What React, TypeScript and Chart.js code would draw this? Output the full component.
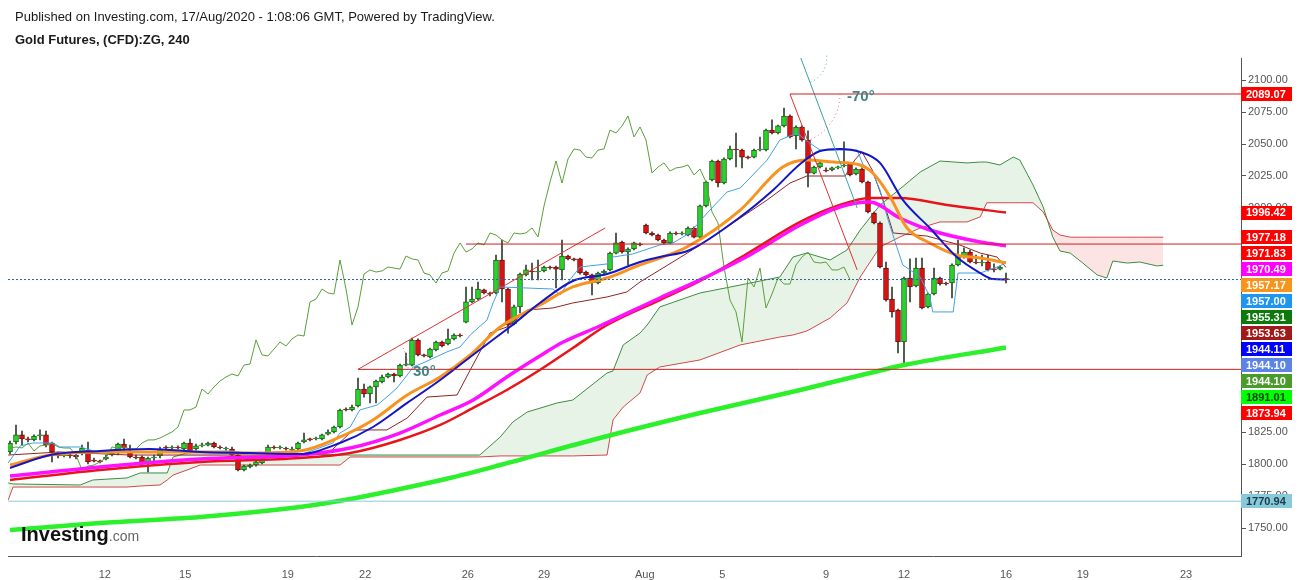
import React, { useEffect, useRef } from "react";
import { Chart, registerables } from "chart.js";

Chart.register(...registerables);

const W = 1299;
const H = 580;

const HEADER_LINE = "Published on Investing.com, 17/Aug/2020 - 1:08:06 GMT, Powered by TradingView.";
const TITLE_LINE = "Gold Futures, (CFD):ZG, 240";

// 4-hour candles (bar index 0..166)
const OPEN = [
  1809.4, 1817.2, 1822.7, 1819.5, 1818.8, 1821.9, 1822.7, 1816.4, 1807.0, 1806.3,
  1807.0, 1807.0, 1808.6, 1810.9, 1803.1, 1802.3, 1803.9, 1807.0, 1808.6, 1815.6,
  1808.6, 1805.5, 1805.5, 1801.6, 1804.7, 1806.3, 1813.3, 1812.5, 1813.3, 1811.7,
  1816.4, 1811.7, 1814.1, 1814.8, 1816.4, 1813.3, 1811.7, 1811.7, 1807.0, 1795.3,
  1797.7, 1799.2, 1800.8, 1808.6, 1813.3, 1812.5, 1812.5, 1810.9, 1811.7, 1817.2,
  1819.5, 1819.5, 1819.5, 1823.4, 1825.0, 1828.9, 1843.0, 1842.2, 1845.3, 1858.6,
  1854.7, 1860.2, 1864.1, 1868.0, 1870.3, 1868.8, 1877.3, 1877.3, 1896.9, 1885.2,
  1883.6, 1889.1, 1895.3, 1893.8, 1897.7, 1900.8, 1910.9, 1926.6, 1928.9, 1936.0,
  1933.6, 1933.6, 1959.4, 1936.7, 1909.4, 1922.7, 1947.7, 1950.8, 1950.0, 1950.8,
  1953.9, 1953.9, 1951.6, 1962.5, 1960.2, 1960.2, 1950.0, 1947.7, 1941.4, 1949.2,
  1951.6, 1964.8, 1973.4, 1965.6, 1968.0, 1971.9, 1986.7, 1980.5, 1978.9, 1975.0,
  1972.7, 1980.5, 1979.7, 1978.9, 1984.4, 1977.3, 2001.6, 2021.9, 2036.7, 2019.5,
  2038.3, 2046.1, 2045.3, 2039.8, 2039.8, 2045.3, 2045.3, 2060.9, 2058.6, 2064.1,
  2071.9, 2056.3, 2063.3, 2053.1, 2027.3, 2032.0, 2029.7, 2029.7, 2031.3, 2032.8,
  2034.4, 2026.6, 2030.5, 2020.3, 1996.1, 1988.3, 1953.1, 1928.9, 1920.3, 1895.3,
  1945.3, 1939.1, 1953.1, 1922.7, 1932.8, 1945.3, 1941.4, 1941.4, 1955.5, 1961.7,
  1965.6, 1957.8, 1957.0, 1957.8, 1952.3, 1952.3, 1944.5,
];
const HIGH = [
  1818.0, 1830.5, 1825.8, 1821.1, 1822.7, 1826.6, 1825.8, 1817.2, 1809.4, 1808.6,
  1808.6, 1807.8, 1814.8, 1817.2, 1804.7, 1803.1, 1807.0, 1810.9, 1816.4, 1819.5,
  1814.8, 1807.0, 1806.3, 1805.5, 1807.0, 1813.3, 1814.1, 1814.1, 1814.1, 1817.2,
  1819.5, 1815.6, 1816.4, 1817.2, 1817.2, 1814.1, 1813.3, 1813.3, 1808.6, 1799.2,
  1800.0, 1803.1, 1805.5, 1814.8, 1814.1, 1814.1, 1813.3, 1813.3, 1817.2, 1824.2,
  1820.3, 1821.1, 1823.4, 1826.6, 1829.7, 1843.0, 1843.8, 1846.1, 1867.2, 1862.5,
  1860.9, 1865.6, 1869.5, 1871.1, 1871.1, 1878.1, 1886.7, 1898.4, 1897.7, 1885.9,
  1890.6, 1896.1, 1896.1, 1905.5, 1901.6, 1901.6, 1938.3, 1938.3, 1942.2, 1936.7,
  1934.4, 1963.3, 1975.0, 1937.5, 1924.2, 1949.2, 1955.5, 1957.0, 1959.4, 1954.7,
  1954.7, 1954.7, 1975.0, 1963.3, 1960.9, 1960.9, 1950.8, 1948.4, 1950.0, 1951.6,
  1965.6, 1980.5, 1974.2, 1968.8, 1973.4, 1972.7, 1987.5, 1981.3, 1979.7, 1975.8,
  1981.3, 1981.3, 1981.3, 1985.2, 1985.2, 2002.3, 2021.1, 2037.5, 2037.5, 2039.1,
  2048.4, 2058.6, 2046.1, 2040.6, 2046.1, 2055.5, 2061.7, 2068.8, 2064.8, 2078.1,
  2072.7, 2064.1, 2064.1, 2060.2, 2032.8, 2035.9, 2031.3, 2032.0, 2032.8, 2051.6,
  2035.2, 2031.3, 2031.3, 2021.1, 1996.9, 1989.1, 1957.8, 1938.3, 1921.1, 1946.1,
  1960.2, 1960.9, 1960.9, 1933.6, 1953.1, 1946.1, 1942.2, 1956.3, 1975.0, 1968.8,
  1967.2, 1963.3, 1963.3, 1963.3, 1956.3, 1954.7, 1949.2,
];
const LOW = [
  1807.8, 1815.6, 1814.8, 1817.2, 1818.0, 1818.8, 1813.3, 1801.6, 1804.7, 1805.5,
  1804.7, 1803.9, 1807.0, 1800.0, 1801.6, 1800.8, 1803.1, 1806.3, 1807.0, 1810.9,
  1804.7, 1803.9, 1800.0, 1793.8, 1801.6, 1804.7, 1811.7, 1811.7, 1811.7, 1810.2,
  1809.4, 1810.9, 1813.3, 1814.1, 1812.5, 1811.7, 1810.9, 1806.3, 1794.5, 1794.5,
  1796.9, 1798.4, 1800.0, 1807.8, 1811.7, 1811.7, 1810.9, 1810.2, 1810.9, 1816.4,
  1818.0, 1818.8, 1818.8, 1822.7, 1824.2, 1828.1, 1841.4, 1841.4, 1844.5, 1852.3,
  1847.7, 1847.7, 1863.3, 1867.2, 1864.1, 1868.0, 1876.6, 1876.6, 1884.4, 1883.6,
  1882.8, 1888.3, 1891.4, 1893.0, 1896.9, 1899.2, 1910.2, 1925.8, 1928.1, 1932.8,
  1931.3, 1932.8, 1926.6, 1902.3, 1908.6, 1918.0, 1946.9, 1943.8, 1943.8, 1950.0,
  1952.3, 1937.5, 1943.8, 1959.4, 1958.6, 1948.4, 1946.9, 1932.0, 1940.6, 1948.4,
  1950.8, 1964.1, 1964.8, 1955.5, 1967.2, 1970.3, 1979.7, 1978.1, 1974.2, 1971.9,
  1971.9, 1978.9, 1978.9, 1978.1, 1976.6, 1976.6, 2000.8, 2021.1, 2016.4, 2018.8,
  2037.5, 2032.0, 2031.3, 2038.3, 2039.1, 2044.5, 2044.5, 2057.8, 2057.8, 2063.3,
  2054.7, 2046.1, 2052.3, 2016.4, 2026.6, 2031.3, 2028.1, 2028.9, 2030.5, 2032.0,
  2025.0, 2025.8, 2019.5, 1996.1, 1987.5, 1953.1, 1927.3, 1914.8, 1886.7, 1878.9,
  1926.6, 1938.3, 1921.1, 1921.9, 1932.0, 1939.8, 1939.8, 1929.7, 1954.7, 1960.9,
  1957.0, 1956.3, 1954.7, 1950.8, 1950.0, 1951.6, 1941.4,
];
const CLOSE = [
  1816.4, 1822.7, 1819.5, 1818.8, 1821.9, 1822.7, 1814.8, 1809.4, 1806.3, 1807.0,
  1806.3, 1805.5, 1812.5, 1801.6, 1802.3, 1801.6, 1805.5, 1808.6, 1815.6, 1812.5,
  1805.5, 1804.7, 1800.8, 1804.7, 1805.5, 1811.7, 1812.5, 1813.3, 1812.5, 1816.4,
  1810.2, 1814.1, 1814.8, 1816.4, 1813.3, 1812.5, 1812.5, 1807.0, 1795.3, 1798.4,
  1799.2, 1801.6, 1804.7, 1813.3, 1812.5, 1813.3, 1811.7, 1811.7, 1816.4, 1818.8,
  1818.8, 1820.3, 1822.7, 1825.0, 1828.9, 1842.2, 1842.2, 1844.5, 1858.6, 1854.7,
  1860.2, 1864.8, 1868.0, 1870.3, 1868.8, 1877.3, 1878.1, 1896.9, 1885.2, 1884.4,
  1889.8, 1895.3, 1892.2, 1897.7, 1900.8, 1900.0, 1926.6, 1928.9, 1936.7, 1933.6,
  1932.8, 1959.4, 1936.7, 1908.6, 1922.7, 1948.4, 1951.6, 1950.0, 1950.8, 1953.9,
  1953.1, 1952.3, 1962.5, 1960.2, 1959.4, 1949.2, 1947.7, 1941.4, 1949.2, 1950.8,
  1964.8, 1972.7, 1965.6, 1968.0, 1972.7, 1971.1, 1980.5, 1978.9, 1975.0, 1972.7,
  1980.5, 1979.7, 1980.5, 1984.4, 1977.3, 2001.6, 2020.3, 2036.7, 2019.5, 2038.3,
  2046.1, 2045.3, 2039.8, 2039.1, 2045.3, 2046.1, 2060.9, 2058.6, 2064.1, 2071.9,
  2055.5, 2063.3, 2053.1, 2027.3, 2032.0, 2035.2, 2028.9, 2031.3, 2032.0, 2033.6,
  2025.8, 2030.5, 2020.3, 1996.9, 1988.3, 1953.9, 1928.1, 1918.8, 1895.3, 1945.3,
  1938.3, 1953.1, 1921.9, 1932.8, 1945.3, 1940.6, 1940.6, 1955.5, 1961.7, 1965.6,
  1957.8, 1957.0, 1957.8, 1951.6, 1951.6, 1953.9, 1944.1,
];

// Moving averages: [bar index, price]
const EMA_BLUE = [
  [0, 1796.9], [6.7, 1807.0], [15, 1810.2], [23.3, 1811.7], [31.7, 1809.4], [40, 1808.6],
  [48.3, 1807.8], [55, 1816.4], [60.5, 1828.9], [66.2, 1847.7], [71.7, 1865.6], [76.7, 1883.6],
  [80, 1895.3], [83.3, 1907.0], [88.3, 1925.8], [93.8, 1943.0], [99.5, 1948.4], [105, 1957.8],
  [108.3, 1961.7], [113.3, 1967.2], [121.7, 1993.0], [127.2, 2014.1], [131.7, 2034.4], [135, 2044.5],
  [138.3, 2046.1], [141.7, 2043.8], [145, 2035.2], [148.8, 2006.3], [153.3, 1984.4], [157.8, 1961.7],
  [161.7, 1949.2], [163.8, 1944.5], [166, 1944.1],
];
const EMA_ORANGE = [
  [0, 1799.2], [6.7, 1807.0], [15, 1809.4], [31.7, 1809.4], [40, 1808.6], [48.3, 1810.2],
  [55, 1821.1], [60.5, 1834.4], [66.2, 1853.9], [71.7, 1868.0], [76.7, 1885.2], [81.7, 1907.0],
  [88.3, 1924.2], [93.8, 1938.3], [99.5, 1945.3], [105, 1955.5], [108.3, 1960.9], [112.8, 1969.5],
  [121.7, 1998.4], [128.8, 2032.0], [132.8, 2037.5], [137.2, 2035.9], [141.7, 2033.6], [143.8, 2027.3],
  [146.7, 2008.6], [149.5, 1984.4], [153.3, 1972.7], [157.8, 1963.3], [161.7, 1960.9], [166, 1957.2],
];
const EMA_MAGENTA = [
  [0, 1790.6], [15, 1797.7], [31.7, 1803.9], [48.3, 1807.0], [56.7, 1812.5], [65, 1824.2],
  [71.7, 1838.3], [77.2, 1850.0], [82.8, 1868.0], [88.3, 1884.4], [92.2, 1895.3], [98.3, 1907.8],
  [108.3, 1929.7], [115, 1943.8], [123.3, 1963.3], [131.7, 1986.7], [138.3, 2000.8], [143.3, 2004.7],
  [148.3, 1992.2], [153.3, 1982.8], [161.7, 1973.4], [166, 1970.5],
];
const EMA_RED = [
  [0, 1787.5], [15, 1795.3], [31.7, 1801.6], [48.3, 1804.7], [56.7, 1808.6], [65, 1818.8],
  [71.7, 1830.5], [77.2, 1843.8], [82.8, 1857.8], [88.3, 1873.4], [93.8, 1890.6], [99.5, 1908.6],
  [108.3, 1928.1], [115, 1943.0], [123.3, 1965.6], [131.7, 1989.1], [138.3, 2002.3], [143.3, 2007.8],
  [148.3, 2007.8], [156.2, 2002.3], [166, 1996.4],
];
const EMA_LIME = [
  [0, 1748.4], [15, 1753.9], [31.7, 1758.6], [48.3, 1766.4], [56.7, 1772.7], [65, 1780.5],
  [73.3, 1789.1], [81.7, 1799.2], [98.3, 1820.3], [115, 1839.8], [131.7, 1857.8], [143.3, 1871.1],
  [149, 1877.3], [166, 1891.0],
];

// Ichimoku lines
const TENKAN = [
  [-0.3, 1800.8], [1.7, 1814.1], [3.8, 1816.4], [7.2, 1816.4], [8.3, 1813.3], [11.7, 1813.3],
  [15, 1808.6], [23.8, 1809.4], [37.2, 1810.2], [41.7, 1804.7], [48.3, 1807.0], [53.8, 1816.4],
  [55, 1824.2], [56.7, 1828.9], [58.3, 1842.2], [61.2, 1846.1], [62.8, 1852.3], [64.5, 1859.4],
  [66.2, 1869.5], [67.2, 1875.8], [68.8, 1878.9], [72.8, 1887.5], [75, 1891.4], [76.7, 1900.8],
  [79.5, 1912.5], [80.5, 1925.8], [81.7, 1938.3], [90.5, 1936.7], [91.7, 1932.0], [93.3, 1943.8],
  [95, 1953.9], [99.5, 1956.3], [100.5, 1961.7], [103.8, 1964.1], [108.3, 1971.1], [110.5, 1972.7],
  [113.3, 1980.5], [116.2, 1996.1], [119.5, 2012.5], [121.7, 2015.6], [123.8, 2025.8], [126.2, 2037.5],
  [128.3, 2053.1], [131.2, 2058.6], [132.8, 2052.3], [135, 2045.3], [141.2, 2045.3], [142.2, 2033.6],
  [143.8, 2027.3], [145, 2014.1], [146.2, 1993.0], [147.8, 1969.5], [148.8, 1955.5], [151.7, 1946.1],
  [153.3, 1930.5], [153.8, 1918.8], [157.2, 1918.8], [158, 1949.2], [161.7, 1949.2], [164.5, 1953.9],
  [166, 1957.0],
];
const KIJUN = [
  [-0.3, 1807.0], [8.3, 1809.4], [20, 1807.0], [48.3, 1807.0], [53.3, 1809.4], [57.2, 1826.6],
  [62.8, 1826.6], [66.2, 1835.9], [69.5, 1852.3], [74.5, 1853.9], [76.7, 1873.4], [80, 1902.3],
  [82.8, 1907.0], [86.2, 1920.3], [90.5, 1921.9], [93.8, 1925.8], [99.5, 1930.5], [102.8, 1934.4],
  [105, 1942.2], [108.3, 1951.6], [114.5, 1969.5], [119.5, 1985.2], [126.2, 2006.3], [130, 2019.5],
  [132.8, 2025.0], [139.2, 2025.0], [140.8, 2037.5], [142, 2043.8], [143.7, 2029.7], [145.5, 2006.3],
  [147.2, 1980.5], [152.8, 1978.1], [158.3, 1971.1], [161.7, 1964.8], [164.5, 1961.7], [166, 1953.6],
];
const CLOUD_IDX = [
  -0.3, 0.5, 11.7, 13.8, 19.5, 21.7, 25, 26.2, 27.2, 29.5, 31.7, 37.2, 55, 56.7, 78.3, 81.7, 83.8,
  86.2, 91.2, 93.8, 99.5, 100.5, 102.2, 105, 106.2, 108.3, 115, 121.7, 128.3, 130.5, 132.8, 136.7,
  139.5, 141.7, 145, 148.3, 151.7, 155, 159.5, 161.7, 162.8, 165, 167.2, 168.3, 170.5, 172.2, 173.8,
  175, 176.7, 178.8, 181.2, 182.8, 183.8, 186.2, 188.3, 191.2, 192.2,
];
const SENKOU_A = [
  1785.2, 1784.4, 1783.6, 1787.5, 1789.1, 1793.0, 1793.0, 1793.0, 1805.5, 1808.6,
  1809.4, 1809.4, 1807.0, 1807.0, 1807.0, 1821.1, 1832.8, 1840.6, 1847.7, 1850.0,
  1871.1, 1872.7, 1893.0, 1902.3, 1908.6, 1922.7, 1933.6, 1939.8, 1946.1, 1961.7,
  1964.8, 1959.4, 1967.2, 1982.8, 2002.3, 2014.8, 2028.1, 2036.7, 2035.2, 2035.9,
  2035.9, 2033.6, 2039.8, 2037.5, 2018.0, 2000.8, 1977.3, 1966.4, 1964.8, 1957.0,
  1947.7, 1945.3, 1958.6, 1957.0, 1957.8, 1954.7, 1955.3,
];
const SENKOU_B = [
  1771.9, 1782.0, 1782.0, 1782.0, 1782.0, 1782.8, 1783.6, 1787.5, 1791.4, 1795.3,
  1799.2, 1799.2, 1799.2, 1805.5, 1805.5, 1806.3, 1806.3, 1806.3, 1806.3, 1806.3,
  1807.0, 1834.4, 1844.5, 1855.5, 1869.5, 1875.8, 1881.3, 1893.0, 1899.2, 1900.8,
  1903.9, 1914.1, 1925.8, 1946.1, 1969.5, 1977.3, 1984.4, 1989.1, 1989.1, 1993.0,
  2004.1, 2004.1, 2004.1, 2004.1, 2004.1, 1996.9, 1982.8, 1978.9, 1977.2, 1977.2,
  1977.2, 1977.2, 1977.2, 1977.2, 1977.2, 1977.2, 1977.2,
];
const CHIKOU_SHIFT = 26;

// Drawings
const LEVEL_TOP = 2089.07;
const LEVEL_MID = 1971.83;
const LEVEL_LOW = 1873.94;
const LEVEL_CYAN = 1770.94;
const LAST_PRICE = 1944.11;
const LEVEL_TOP_FROM = 130;
const LEVEL_MID_FROM = 76;
const LEVEL_LOW_FROM = 58;
const TREND_UP = [[58, 1873.94], [99.2, 1984.4]];
const TREND_DOWN = [[130, 2089.07], [141.2, 1951.6]];
const TREND_TEAL = [[131.8, 2117.2], [141.2, 2000.0]];

// Axes
const X_MIN = -1 / 3;
const X_MAX = X_MIN + 1233 / 6;
const Y_MIN = 1728.125;
const Y_MAX = 2117.1875;
const X_TICK_POS = [15.8, 29.2, 46.3, 59.2, 76.3, 89, 105.8, 118.7, 136, 149, 166, 178.8, 196];
const X_TICK_LABELS = ["12", "15", "19", "22", "26", "29", "Aug", "5", "9", "12", "16", "19", "23"];
const Y_TICKS = [1750, 1775, 1800, 1825, 1850, 1875, 1900, 1925, 1950, 1975, 2000, 2025, 2050, 2075, 2100];

// Price tags on the right axis
const TAG_VALUES = [2089.07, 1996.42, 1977.18, 1971.83, 1970.49, 1957.17, 1957.0, 1955.31, 1953.63, 1944.11, 1944.1, 1944.1, 1891.01, 1873.94, 1770.94];
const TAG_FILL = ["#ff0000", "#ff0000", "#ff0000", "#ff0000", "#ff00ff", "#f7941d", "#1e96f0", "#0b7a0b", "#a01a1a", "#0000ff", "#5b84e6", "#4b9a2c", "#00ff00", "#ff0000", "#88cadb"];
const TAG_TEXT = ["#fff", "#fff", "#fff", "#fff", "#fff", "#fff", "#fff", "#fff", "#fff", "#fff", "#fff", "#fff", "#0a3a0a", "#fff", "#1a3a44"];

const FONT = '"Liberation Sans", Arial, sans-serif';

const pts = (arr: number[][]) => arr.map(([x, y]) => ({ x, y }));

function line(data: any[], color: string, width: number, order: number, extra: any = {}) {
  return {
    type: "line",
    data,
    borderColor: color,
    borderWidth: width,
    pointRadius: 0,
    fill: false,
    order,
    ...extra,
  };
}

const overlayPlugin = {
  id: "overlay",
  afterDraw(chart: any) {
    const { ctx, scales } = chart;
    const xs = scales.x;
    const ys = scales.y;
    const px = (i: number) => xs.getPixelForValue(i);
    const py = (v: number) => ys.getPixelForValue(v);
    ctx.save();

    // header
    ctx.textAlign = "left";
    ctx.textBaseline = "middle";
    ctx.fillStyle = "#1a1a1a";
    ctx.font = `13px ${FONT}`;
    ctx.fillText(HEADER_LINE, 15, 17);
    ctx.font = `bold 13px ${FONT}`;
    ctx.fillText(TITLE_LINE, 15, 40);

    // angle arcs
    ctx.setLineDash([1, 3]);
    ctx.lineWidth = 1;
    ctx.strokeStyle = "#e06060";
    ctx.beginPath();
    ctx.arc(px(TREND_UP[0][0]), py(TREND_UP[0][1]), 50, -Math.PI / 6, 0);
    ctx.stroke();
    ctx.beginPath();
    ctx.arc(px(TREND_DOWN[0][0]), py(TREND_DOWN[0][1]), 50, 0, (69 * Math.PI) / 180);
    ctx.stroke();
    ctx.strokeStyle = "#4aa6a6";
    ctx.beginPath();
    ctx.arc(px(TREND_TEAL[0][0]), py(TREND_TEAL[0][1]), 26, (-5 * Math.PI) / 180, (68 * Math.PI) / 180);
    ctx.stroke();
    ctx.setLineDash([]);

    // angle labels
    ctx.fillStyle = "#3f8585";
    ctx.font = `bold 15px ${FONT}`;
    ctx.fillText("-70°", px(TREND_DOWN[0][0]) + 57, py(TREND_DOWN[0][1]) + 3);
    ctx.fillText("30°", px(TREND_UP[0][0]) + 55, py(TREND_UP[0][1]) + 3);

    // logo
    ctx.textBaseline = "alphabetic";
    ctx.fillStyle = "#111";
    ctx.font = `bold 20px ${FONT}`;
    ctx.fillText("Investing", 21, 541);
    const w = ctx.measureText("Investing").width;
    ctx.fillStyle = "#666";
    ctx.font = `14px ${FONT}`;
    ctx.fillText(".com", 21 + w, 541);

    // price tags
    ctx.textBaseline = "middle";
    ctx.font = `bold 11px ${FONT}`;
    const left = ys.left;
    let prev = -1e9;
    TAG_VALUES.forEach((v, k) => {
      let c = py(v);
      if (c < prev + 16) c = prev + 16;
      prev = c;
      ctx.fillStyle = TAG_FILL[k];
      ctx.fillRect(left, Math.round(c - 7), 51, 14);
      ctx.fillStyle = TAG_TEXT[k];
      ctx.fillText(v.toFixed(2), left + 5, c + 0.5);
    });

    ctx.restore();
  },
};

export default function App() {
  const ref = useRef<HTMLCanvasElement>(null);

  useEffect(() => {
    const canvas = ref.current;
    if (!canvas) return;
    Chart.defaults.font.family = FONT;

    const up = CLOSE.map((c, i) => c >= OPEN[i]);
    const datasets: any[] = [];

    // drawings (on top)
    datasets.push(line([{ x: LEVEL_TOP_FROM, y: LEVEL_TOP }, { x: X_MAX, y: LEVEL_TOP }], "#cc1f1f", 1, 1));
    datasets.push(line([{ x: LEVEL_MID_FROM, y: LEVEL_MID }, { x: X_MAX, y: LEVEL_MID }], "#cc1f1f", 1, 1));
    datasets.push(line([{ x: LEVEL_LOW_FROM, y: LEVEL_LOW }, { x: X_MAX, y: LEVEL_LOW }], "#cc1f1f", 1, 1));
    datasets.push(line(pts(TREND_UP), "#e03030", 1, 1));
    datasets.push(line(pts(TREND_DOWN), "#e03030", 1, 1));
    datasets.push(line(pts(TREND_TEAL), "#3fa0a0", 1, 1));
    datasets.push(line([{ x: X_MIN, y: LEVEL_CYAN }, { x: X_MAX, y: LEVEL_CYAN }], "#8ccbdb", 1, 2));
    datasets.push(line([{ x: X_MIN, y: LAST_PRICE }, { x: X_MAX, y: LAST_PRICE }], "#2f5f9f", 1, 2, { borderDash: [2, 2] }));

    // moving averages
    const smooth = { cubicInterpolationMode: "monotone" };
    datasets.push(line(pts(EMA_BLUE), "#1414c8", 2, 3, smooth));
    datasets.push(line(pts(EMA_ORANGE), "#f7931e", 3, 4, smooth));
    datasets.push(line(pts(EMA_MAGENTA), "#ff10ff", 3.5, 5, smooth));
    datasets.push(line(pts(EMA_RED), "#e8141a", 2.5, 6, smooth));
    datasets.push(line(pts(EMA_LIME), "#2cf02c", 4.5, 7, smooth));

    // ichimoku
    datasets.push(line(pts(TENKAN), "#42a2e2", 1, 8));
    datasets.push(line(pts(KIJUN), "#8e2424", 1, 9));
    datasets.push(
      line(
        CLOSE.map((c, i) => ({ x: i - CHIKOU_SHIFT, y: c })).filter((p) => p.x >= -1),
        "#5b9e3b",
        1,
        10
      )
    );

    // candles
    datasets.push({
      type: "bar",
      data: OPEN.map((_, i) => ({ x: i, y: [LOW[i], HIGH[i]] })),
      backgroundColor: "#2f3f2f",
      barThickness: 1,
      grouped: false,
      order: 21,
    });
    datasets.push({
      type: "bar",
      data: OPEN.map((o, i) => ({ x: i, y: [o, CLOSE[i]] })),
      backgroundColor: up.map((u) => (u ? "#27d427" : "#dc1212")),
      borderColor: up.map((u) => (u ? "#1b5e1b" : "#6e0e0e")),
      borderWidth: 1,
      borderSkipped: false,
      barThickness: 5,
      minBarLength: 1,
      grouped: false,
      order: 20,
    });

    // cloud
    const spanB = CLOUD_IDX.map((x, k) => ({ x, y: SENKOU_B[k] }));
    const spanA = CLOUD_IDX.map((x, k) => ({ x, y: SENKOU_A[k] }));
    const bIndex = datasets.length;
    datasets.push(line(spanB, "#cf4a4a", 1, 30));
    datasets.push(
      line(spanA, "#3d8d3d", 1, 31, {
        fill: { target: bIndex, above: "rgba(76,160,76,0.13)", below: "rgba(244,90,90,0.16)" },
      })
    );

    const chart = new Chart(canvas, {
      type: "line",
      data: { datasets },
      options: {
        animation: false,
        responsive: false,
        maintainAspectRatio: false,
        events: [],
        layout: { padding: { left: 8, top: 58, right: 0, bottom: 0 } },
        plugins: {
          legend: { display: false },
          tooltip: { enabled: false },
          title: { display: false },
        },
        scales: {
          x: {
            type: "linear",
            min: X_MIN,
            max: X_MAX,
            offset: false,
            grid: { display: false },
            border: { display: true, color: "#555", width: 1 },
            ticks: {
              autoSkip: false,
              maxRotation: 0,
              padding: 4,
              color: "#555",
              font: { size: 11, family: FONT },
              callback: (_v: any, i: number) => X_TICK_LABELS[i],
            },
            afterBuildTicks: (scale: any) => {
              scale.ticks = X_TICK_POS.map((value) => ({ value }));
            },
            afterFit: (scale: any) => {
              scale.height = 24;
            },
          },
          y: {
            type: "linear",
            position: "right",
            min: Y_MIN,
            max: Y_MAX,
            grid: { drawOnChartArea: false, drawTicks: true, tickLength: 5, color: "#555" },
            border: { display: true, color: "#555", width: 1 },
            ticks: {
              padding: 2,
              color: "#555",
              font: { size: 11, family: FONT },
              callback: (v: any) => Number(v).toFixed(2),
            },
            afterBuildTicks: (scale: any) => {
              scale.ticks = Y_TICKS.map((value) => ({ value }));
            },
            afterFit: (scale: any) => {
              scale.width = 58;
            },
          },
        },
      } as any,
      plugins: [overlayPlugin],
    } as any);

    return () => chart.destroy();
  }, []);

  return (
    <div style={{ position: "absolute", left: 0, top: 0, width: W, height: H, background: "#fff" }}>
      <canvas ref={ref} width={W} height={H} style={{ width: W, height: H, display: "block" }} />
    </div>
  );
}
